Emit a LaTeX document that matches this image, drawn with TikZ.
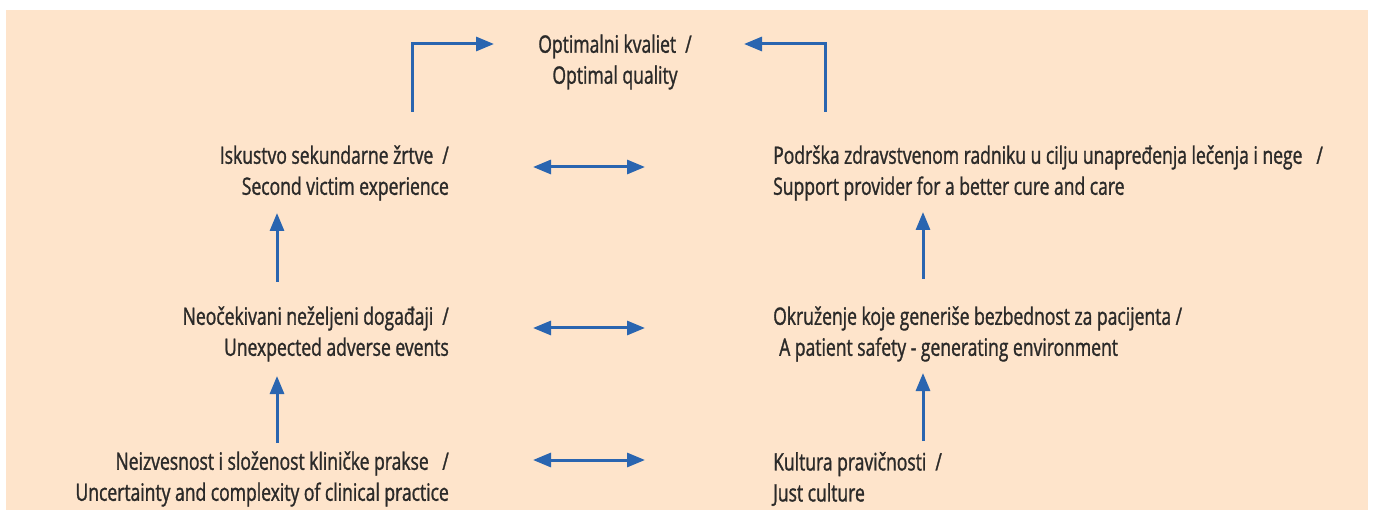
\documentclass[tikz,border=0pt]{standalone}
\usepackage{fontspec}
\setmainfont[FakeStretch=0.73,FakeBold=1.2]{Open Sans}
\usetikzlibrary{arrows.meta}
\definecolor{bgpeach}{HTML}{FEE4CB}
\definecolor{arrowblue}{HTML}{2A65B0}
\definecolor{txtdark}{HTML}{2B2A29}
\tikzset{
  lbl/.style={inner sep=0pt, text=txtdark, font=\fontsize{24}{31}\selectfont},
  conn/.style={draw=arrowblue, line width=3pt, -{Triangle[length=18pt,width=14pt]}},
  dconn/.style={draw=arrowblue, line width=3pt, {Triangle[length=18pt,width=14pt]}-{Triangle[length=18pt,width=14pt]}}
}
\begin{document}
\begin{tikzpicture}[x=1pt,y=-1pt]
\useasboundingbox (0,0) rectangle (1373,510);
\fill[bgpeach] (6,10) rectangle (1368,510);

\node[lbl, align=center] (top) at (615,62) {Optimalni kvaliet\ \ /\\Optimal quality};

\node[lbl, align=right, anchor=east] (l1) at (449,173) {Iskustvo sekundarne žrtve\ \ /\\Second victim experience};
\node[lbl, align=right, anchor=east] (l2) at (449,334) {Neočekivani neželjeni događaji\ \ /\\Unexpected adverse events};
\node[lbl, align=right, anchor=east] (l3) at (449,479) {Neizvesnost i složenost kliničke prakse\ \ \ /\\Uncertainty and complexity of clinical practice};

\node[lbl, align=left, anchor=west] (r1) at (773,173) {Podrška zdravstvenom radniku u cilju unapređenja lečenja i nege\hspace{14pt}/\\Support provider for a better cure and care};
\node[lbl, align=left, anchor=west] (r2) at (773,334) {Okruženje koje generiše bezbednost za pacijenta /\\\hspace*{6pt}A patient safety - generating environment};
\node[lbl, align=left, anchor=west] (r3) at (773,479) {Kultura pravičnosti\ \ /\\Just culture};

% connector endpoints
\coordinate (tlS) at (412,112);
\coordinate (tlC) at (412,44);
\coordinate (tlE) at (494,44);
\coordinate (trS) at (825,112);
\coordinate (trC) at (825,44);
\coordinate (trE) at (744,44);

\coordinate (l1b) at (277,282); \coordinate (l1t) at (277,213);
\coordinate (l2b) at (277,443); \coordinate (l2t) at (277,376);
\coordinate (r1b) at (923,279); \coordinate (r1t) at (923,212);
\coordinate (r2b) at (923,441); \coordinate (r2t) at (923,373);

\coordinate (h1a) at (533,167); \coordinate (h1b) at (645,167);
\coordinate (h2a) at (533,328); \coordinate (h2b) at (645,328);
\coordinate (h3a) at (533,460); \coordinate (h3b) at (645,460);

\draw[conn] (tlS) -- (tlC) -- (tlE);
\draw[conn] (trS) -- (trC) -- (trE);
\draw[conn] (l1b) -- (l1t);
\draw[conn] (l2b) -- (l2t);
\draw[conn] (r1b) -- (r1t);
\draw[conn] (r2b) -- (r2t);
\draw[dconn] (h1a) -- (h1b);
\draw[dconn] (h2a) -- (h2b);
\draw[dconn] (h3a) -- (h3b);
\end{tikzpicture}
\end{document}
